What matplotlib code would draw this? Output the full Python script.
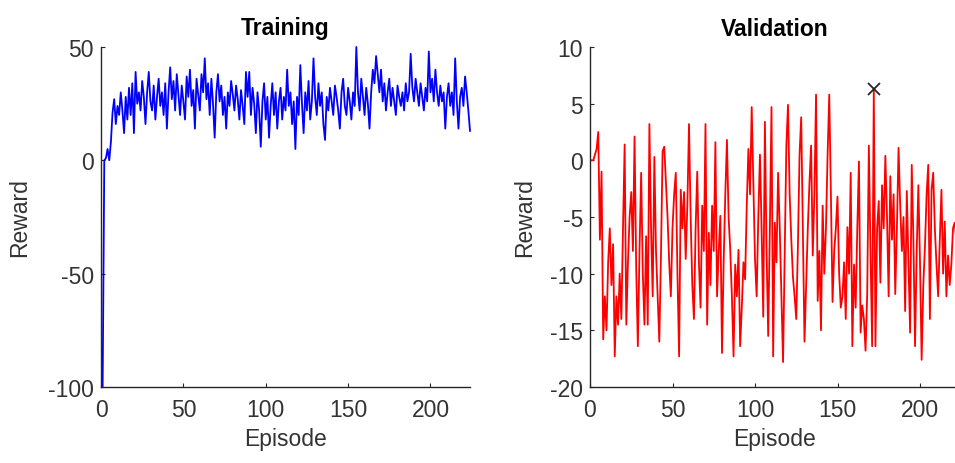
import matplotlib
matplotlib.use("Agg")
import matplotlib.pyplot as plt

plt.rcParams['font.family'] = ['Liberation Sans', 'DejaVu Sans']
plt.rcParams['axes.unicode_minus'] = False

train_reward = [
    -100, 0, 1, 5, 0, 8, 21, 27, 16, 24, 20, 30, 22, 12, 28, 18, 32, 20, 34, 12,
    39, 25, 30, 22, 35, 28, 16, 30, 39, 26, 22, 33, 18, 28, 36, 24, 30, 20, 34, 14,
    30, 41, 27, 35, 22, 38, 29, 20, 33, 26, 18, 37, 28, 40, 24, 31, 14, 36, 29, 22,
    38, 30, 45, 27, 34, 20, 36, 25, 10, 30, 38, 26, 33, 20, 28, 14, 30, 24, 35, 29,
    22, 33, 27, 18, 31, 24, 16, 39, 28, 39, 20, 32, 25, 12, 30, 22, 6, 26, 34, 18,
    28, 10, 24, 34, 20, 30, 14, 26, 32, 18, 28, 22, 40, 24, 30, 16, 26, 5, 28, 20,
    42, 25, 12, 30, 22, 35, 18, 26, 45, 28, 20, 34, 24, 30, 16, 9, 28, 22, 32, 26,
    20, 33, 28, 22, 14, 30, 36, 24, 20, 32, 26, 18, 30, 24, 50, 30, 22, 36, 28, 20,
    32, 25, 14, 30, 40, 34, 46, 38, 30, 40, 26, 34, 22, 30, 36, 24, 32, 26, 20, 33,
    28, 24, 30, 22, 34, 26, 30, 47, 32, 26, 36, 30, 24, 34, 28, 22, 32, 26, 48, 30,
    36, 26, 40, 30, 24, 33, 26, 30, 14, 28, 34, 24, 30, 20, 45, 26, 14, 28, 32, 24,
    37, 30, 22, 13,
]

val_reward = [
    0, 0, 0.5, 1, 2.5, -7, -1, -15.8, -12, -15, -9, -6, -11, -7.4, -17.3, -12, -14.5, -10, -14, -6,
    1.4, -14.5, -9, -5, -2.8, -8, 2.1, -9.5, -16.4, -8, -1.1, -10, -14.5, -6.7, -14.5, 3.2, -6, -12, 0.3, -8,
    -12, -16, -8.4, 0.8, 1.2, -2, -5, -9, -12, -6, -3, -1.1, -10, -17.3, -2.6, -6, -2.8, -8.7, -4, 3.2,
    -5, -11, -14, -6, -1, -9, -13, -4, -8, 3.2, -14.5, -6.4, -11, -4, -8, 1.6, -12, -8, -4.9, -17,
    -9, -3, 1.8, -5, -7.9, -12, -17.3, -9.2, -12, -7.9, -16.4, -13, -9, -10.5, -4, 1, -3, 4.7, -2, -8.7,
    -12, -5, 0.5, -6, -13.8, 3.4, -8, -15.5, -6, 4.7, -17.3, -5.5, -9, -1.1, -6, -12, -17.8, -8, 1.3, 4.9,
    -3, -7, -10.3, -12, -14, -7.6, 0.5, 3.8, -6, -16, -11, -6, -2, 1.3, -8.4, -3, 5.8, -12.4, -8, -15,
    -4, -10, -6, 0.5, 5.8, -3, -12.5, -8, -6, -3.2, -10, -13, -12, -9, -14, -5.9, -10, -1.1, -16.4, -9.2,
    -13, -6, -0.1, -15.2, -12.8, -14, -16.8, -11.8, 1.3, -8, -16.4, 6.3, -16.4, -6, -3.6, -10.8, -2.2, -6, 0.4, -5,
    -12, -1.4, -7, -3, -11.8, -6, 1.1, -4, -8, -5, -13.3, -2.7, -9, -15.2, -0.4, -7, -16.4, -8, -2.2, -9,
    -17.6, -11, -7.6, -3, -0.4, -14, -2.6, -1.1, -6, -9.2, -12, -7, -2.6, -10, -5.4, -12, -8.4, -11, -9.2, -6,
    -5.5, -7, -9.5, -8,
]

train_episodes = list(range(1, len(train_reward) + 1))
val_episodes = list(range(1, len(val_reward) + 1))

best_value = max(val_reward)
best_episode = val_episodes[val_reward.index(best_value)]

x_ticks = [0, 50, 100, 150, 200]
train_yticks = [-100, -50, 0, 50]
val_yticks = [-20, -15, -10, -5, 0, 5, 10]

W, H = 955, 464
fig = plt.figure(figsize=(W / 100, H / 100), dpi=100)

ax1 = fig.add_axes([101 / W, (H - 388) / H, 369 / W, 340 / H])
ax2 = fig.add_axes([590 / W, (H - 388) / H, 369.6 / W, 340 / H])

txt_col = '#333333'
fs = 16.5

def style(ax, yticks, ylim, title, ylab_x):
    ax.set_xlim(0, 224)
    ax.set_ylim(*ylim)
    ax.set_xticks(x_ticks)
    ax.set_yticks(yticks)
    for s in ['top', 'right']:
        ax.spines[s].set_visible(False)
    for s in ['left', 'bottom']:
        ax.spines[s].set_color('#262626')
        ax.spines[s].set_linewidth(1.0)
    ax.tick_params(direction='in', length=3, width=0.8, colors='#262626',
                   labelcolor=txt_col, labelsize=fs)
    ax.tick_params(axis='x', pad=8)
    ax.tick_params(axis='y', pad=5)
    ax.set_xlabel('Episode', fontsize=fs, color=txt_col, labelpad=4)
    ax.set_ylabel('Reward', fontsize=fs, color=txt_col)
    ax.yaxis.set_label_coords(ylab_x, 0.5)
    ax.set_title(title, fontsize=fs, fontweight='bold', color='black', pad=9)

ax1.plot(train_episodes, train_reward, color='blue', lw=1.3, clip_on=False)
style(ax1, train_yticks, (-100, 50), 'Training', -0.19)

ax2.plot(val_episodes, val_reward, color='red', lw=1.3)
ax2.plot([best_episode], [best_value], marker='x', color='#262626',
         markersize=9, mew=1.3, linestyle='none')
style(ax2, val_yticks, (-20, 10), 'Validation', -0.145)

fig.savefig('out.png', dpi=100)
